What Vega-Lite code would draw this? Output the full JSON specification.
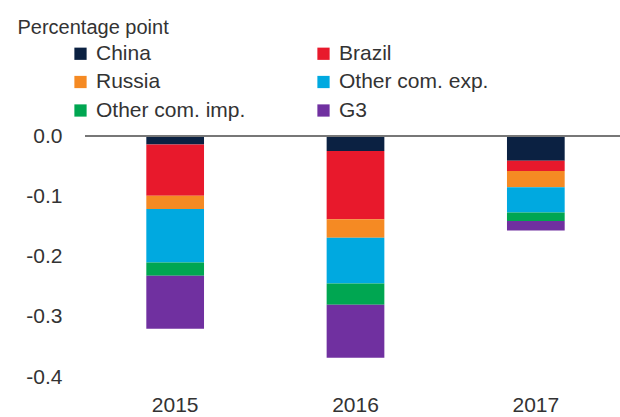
{
  "$schema": "https://vega.github.io/schema/vega-lite/v6.json",
  "autosize": "none",
  "width": 541,
  "height": 241,
  "padding": {"left": 85, "top": 136, "right": 0, "bottom": 40},
  "background": "white",
  "config": {
    "view": {"stroke": null},
    "font": "Liberation Sans"
  },
  "data": {
    "values": [
      {"year": "2015", "region": "China", "value": -0.014},
      {"year": "2015", "region": "Brazil", "value": -0.085},
      {"year": "2015", "region": "Russia", "value": -0.022},
      {"year": "2015", "region": "Other com. exp.", "value": -0.089},
      {"year": "2015", "region": "Other com. imp.", "value": -0.022},
      {"year": "2015", "region": "G3", "value": -0.088},
      {"year": "2016", "region": "China", "value": -0.025},
      {"year": "2016", "region": "Brazil", "value": -0.113},
      {"year": "2016", "region": "Russia", "value": -0.031},
      {"year": "2016", "region": "Other com. exp.", "value": -0.076},
      {"year": "2016", "region": "Other com. imp.", "value": -0.035},
      {"year": "2016", "region": "G3", "value": -0.088},
      {"year": "2017", "region": "China", "value": -0.041},
      {"year": "2017", "region": "Brazil", "value": -0.017},
      {"year": "2017", "region": "Russia", "value": -0.027},
      {"year": "2017", "region": "Other com. exp.", "value": -0.042},
      {"year": "2017", "region": "Other com. imp.", "value": -0.014},
      {"year": "2017", "region": "G3", "value": -0.016}
    ]
  },
  "transform": [
    {"calculate": "indexof(['China', 'Brazil', 'Russia', 'Other com. exp.', 'Other com. imp.', 'G3'], datum.region)", "as": "stackRank"}
  ],
  "layer": [
    {
      "mark": {"type": "bar"},
      "encoding": {
        "x": {
          "field": "year",
          "type": "nominal",
          "scale": {"paddingInner": 0.68, "paddingOuter": 0.34},
          "axis": {
            "title": null,
            "labelAngle": 0,
            "domain": false,
            "ticks": false,
            "labelPadding": 17,
            "labelFontSize": 21,
            "labelColor": "#333333",
            "labelFont": "Liberation Sans"
          }
        },
        "y": {
          "field": "value",
          "type": "quantitative",
          "stack": "zero",
          "scale": {"domain": [-0.4, 0], "nice": false},
          "axis": {
            "values": [0, -0.1, -0.2, -0.3, -0.4],
            "labelExpr": "replace(format(datum.value, '.1f'), '\u2212', '-')",
            "domain": false,
            "ticks": false,
            "grid": false,
            "labelPadding": 23,
            "labelFontSize": 21,
            "labelColor": "#333333",
            "labelFont": "Liberation Sans",
            "title": "Percentage point",
            "titleAngle": 0,
            "titleAlign": "left",
            "titleBaseline": "alphabetic",
            "titleX": -68,
            "titleY": -103,
            "titleFontSize": 20,
            "titleFontWeight": "normal",
            "titleColor": "#333333",
            "titleFont": "Liberation Sans"
          }
        },
        "color": {
          "field": "region",
          "type": "nominal",
          "sort": ["China", "Brazil", "Russia", "Other com. exp.", "Other com. imp.", "G3"],
          "scale": {
            "domain": ["China", "Brazil", "Russia", "Other com. exp.", "Other com. imp.", "G3"],
            "range": ["#0b2142", "#e8192c", "#f58a23", "#00a9e0", "#00a651", "#7030a0"]
          },
          "legend": {
            "title": null,
            "orient": "none",
            "direction": "horizontal",
            "legendX": -15,
            "legendY": -93,
            "columns": 2,
            "columnPadding": 67,
            "rowPadding": 6.5,
            "symbolType": "square",
            "symbolSize": 150,
            "symbolStrokeWidth": 0,
            "labelFontSize": 21,
            "labelColor": "#333333",
            "labelFont": "Liberation Sans",
            "labelOffset": 5
          }
        },
        "order": {"field": "stackRank", "type": "quantitative", "sort": "ascending"}
      }
    },
    {
      "mark": {"type": "rule", "color": "#777777", "strokeWidth": 1.5},
      "encoding": {
        "y": {"datum": 0, "type": "quantitative"}
      }
    }
  ]
}
